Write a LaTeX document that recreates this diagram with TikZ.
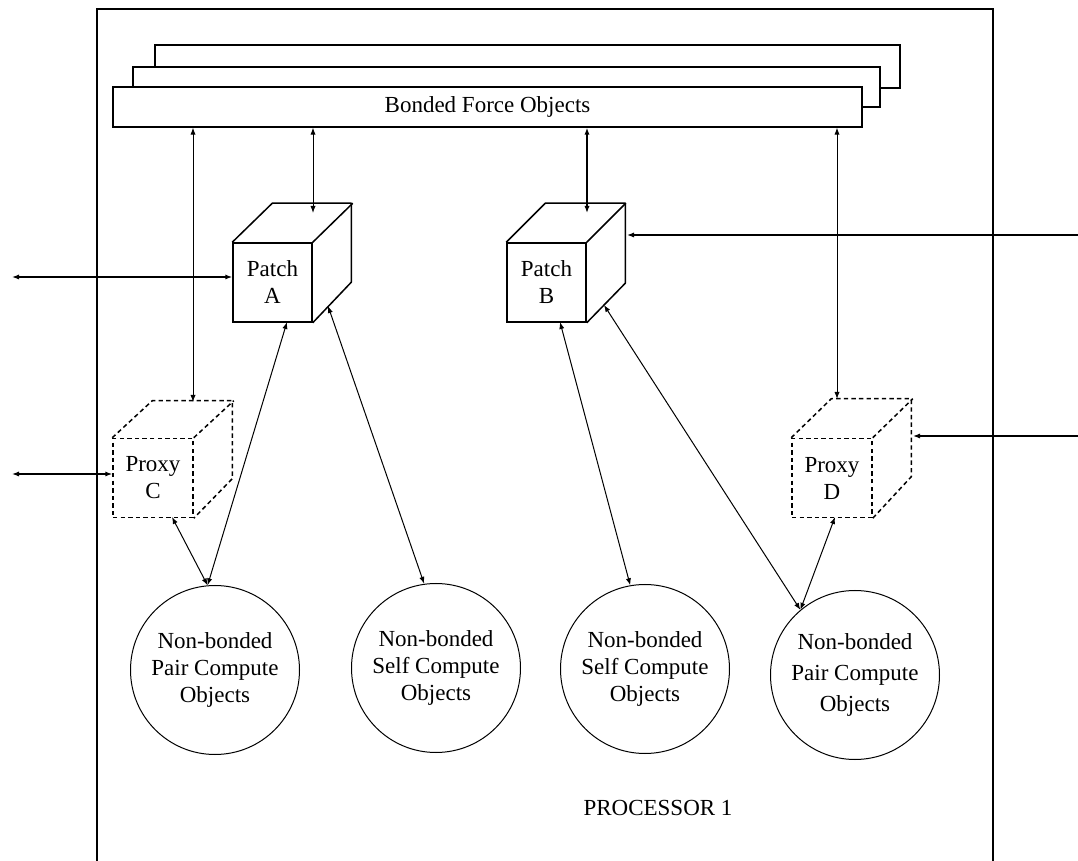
\documentclass[tikz,border=0pt]{standalone}
\usepackage{fontspec}
\setmainfont{Liberation Serif}
\usetikzlibrary{arrows.meta,calc}
\begin{document}
\begin{tikzpicture}[x=0.5pt,y=-0.5pt,
  font=\fontsize{11.5}{13.5}\selectfont,
  tip/.tip={Latex[length=3.5pt,width=2.6pt]},
  conn/.style={line width=0.5pt,{tip}-{tip}},
  inarrow/.style={line width=0.9pt,-{tip}},
  face/.style={draw,fill=white,line width=0.75pt,minimum width=39.5pt,minimum height=39.5pt,inner sep=0pt,align=center},
  cubeline/.style={line width=0.75pt,line join=round},
  dashcube/.style={dash pattern=on 2.2pt off 1.6pt},
  layer/.style={draw,fill=white,line width=0.6pt},
  compute/.style={draw,circle,line width=0.5pt,minimum size=84.5pt,inner sep=0pt,align=center}]
\useasboundingbox (0,0) rectangle (1078,861);

% processor frame
\draw[line width=0.75pt] (97,861) -- (97,9) -- (993,9) -- (993,861);

% bonded force object layers
\draw[layer] (155,45) rectangle (900,88);
\draw[layer] (133,67) rectangle (880,107);
\node[layer,minimum width=374.5pt,minimum height=20pt,inner sep=0pt] (bf) at (487.5,107) {Bonded Force Objects};

% Patch A
\node[face] (pa) at (272.5,282.5) {Patch\\A};
\draw[cubeline] (pa.north west) -- ++(40,-39) -- ++(79,0) -- ++(0,79) -- (pa.south east);
\draw[cubeline] (pa.north east) -- ++(40,-39);

% Patch B
\node[face] (pb) at (546.5,282.5) {Patch\\B};
\draw[cubeline] (pb.north west) -- ++(39,-39) -- ++(80,0) -- ++(0,80) -- (pb.south east);
\draw[cubeline] (pb.north east) -- ++(39,-39);

% Proxy C
\node[face,dashcube,minimum width=40pt] (pc) at (153,478) {Proxy\\C};
\draw[cubeline,dashcube] (pc.north west) -- ++(40,-37) -- ++(80,0) -- ++(0,78) -- (pc.south east);
\draw[cubeline,dashcube] (pc.north east) -- ++(40,-37);

% Proxy D
\node[face,dashcube,minimum width=40pt] (pd) at (832,478) {Proxy\\D};
\draw[cubeline,dashcube] (pd.north west) -- ++(40,-39) -- ++(80,0) -- ++(0,78) -- (pd.south east);
\draw[cubeline,dashcube] (pd.north east) -- ++(40,-39);

% compute objects
\node[compute] (c1) at (215,670) {Non-bonded\\Pair Compute\\Objects};
\node[compute] (c2) at (436,668) {Non-bonded\\Self Compute\\Objects};
\node[compute] (c3) at (645,669) {Non-bonded\\Self Compute\\Objects};
\node[compute,font=\fontsize{11.5}{15.5}\selectfont] (c4) at (855,675) {Non-bonded\\Pair Compute\\Objects};

\node (proc) at (658,808) {PROCESSOR 1};

% attachment points
\coordinate (pcTop) at (193,402);
\coordinate (paTop) at (313,213);
\coordinate (pbTop) at (587,213);
\coordinate (pdTop) at (837,399);
\coordinate (paB) at (287,322);
\coordinate (paR) at (328,306);
\coordinate (pbB) at (560,322);
\coordinate (pbR) at (604,305);
\coordinate (pcB) at (172,517);
\coordinate (pdB) at (835,517);
\coordinate (leftA) at (12,277);
\coordinate (leftC) at (12,474);
\coordinate (rightB) at (1078,235);
\coordinate (rightD) at (1078,436);
\coordinate (pbRface) at (627,235);
\coordinate (pdRface) at (913,436);

% bonded links
\draw[conn] (bf.south -| pcTop) -- (pcTop);
\draw[conn] (bf.south -| paTop) -- (paTop);
\draw[conn,line width=0.8pt] (bf.south -| pbTop) -- (pbTop);
\draw[conn] (bf.south -| pdTop) -- (pdTop);

% off-processor links
\draw[conn,line width=0.7pt] (leftA) -- (pa.west |- leftA);
\draw[conn,line width=0.7pt] (leftC) -- (pc.west |- leftC);
\draw[inarrow] (rightB) -- (pbRface);
\draw[inarrow] (rightD) -- (pdRface);

% compute links
\draw[conn] (paB) -- (c1.95);
\draw[conn] (pcB) -- (c1.95);
\draw[conn] (paR) -- (c2.98);
\draw[conn] (pbB) -- (c3.100);
\draw[conn] (pbR) -- (c4.130);
\draw[conn] (pdB) -- (c4.130);
\end{tikzpicture}
\end{document}
